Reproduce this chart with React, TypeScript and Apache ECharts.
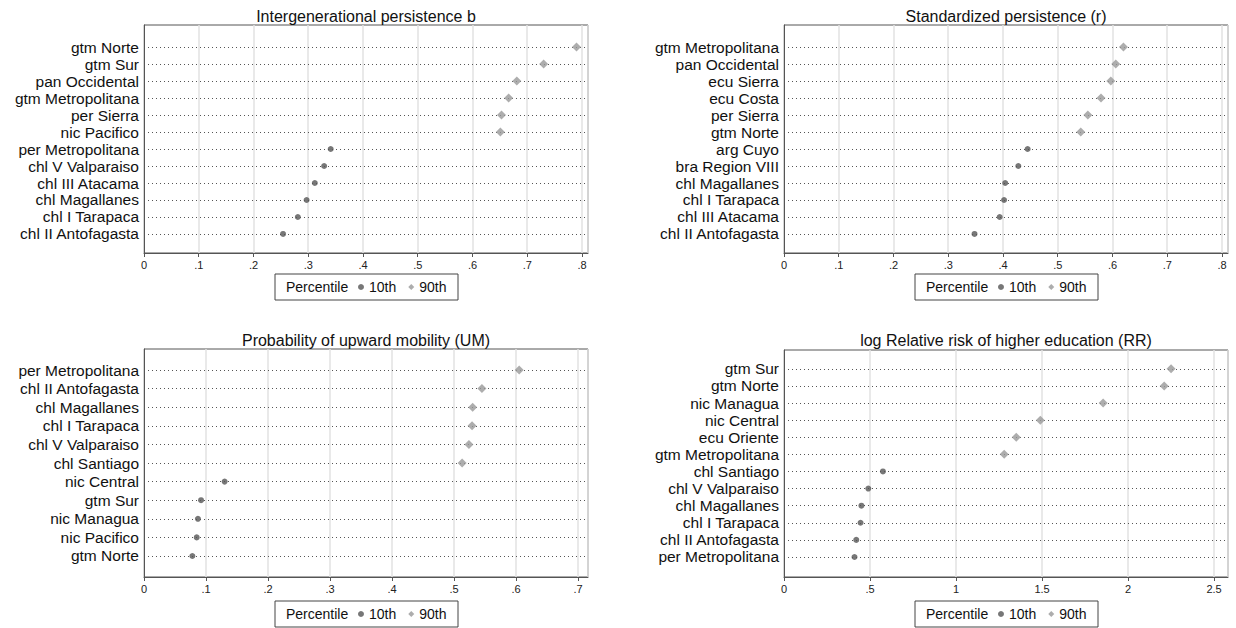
import React, { useEffect, useRef } from "react";
import * as echarts from "echarts";

const titles = ["Intergenerational persistence b", "Standardized persistence (r)", "Probability of upward mobility (UM)", "log Relative risk of higher education (RR)"];

// rows listed top to bottom
const rows1 = ["gtm Norte", "gtm Sur", "pan Occidental", "gtm Metropolitana", "per Sierra", "nic Pacifico", "per Metropolitana", "chl V Valparaiso", "chl III Atacama", "chl Magallanes", "chl I Tarapaca", "chl II Antofagasta"];
const vals1 = [0.79, 0.73, 0.681, 0.666, 0.653, 0.651, 0.341, 0.329, 0.312, 0.297, 0.281, 0.254];
const pct1 = ["90", "90", "90", "90", "90", "90", "10", "10", "10", "10", "10", "10"];

const rows2 = ["gtm Metropolitana", "pan Occidental", "ecu Sierra", "ecu Costa", "per Sierra", "gtm Norte", "arg Cuyo", "bra Region VIII", "chl Magallanes", "chl I Tarapaca", "chl III Atacama", "chl II Antofagasta"];
const vals2 = [0.62, 0.606, 0.597, 0.579, 0.555, 0.542, 0.445, 0.428, 0.404, 0.402, 0.394, 0.348];
const pct2 = ["90", "90", "90", "90", "90", "90", "10", "10", "10", "10", "10", "10"];

const rows3 = ["per Metropolitana", "chl II Antofagasta", "chl Magallanes", "chl I Tarapaca", "chl V Valparaiso", "chl Santiago", "nic Central", "gtm Sur", "nic Managua", "nic Pacifico", "gtm Norte"];
const vals3 = [0.605, 0.545, 0.53, 0.529, 0.524, 0.513, 0.13, 0.092, 0.087, 0.085, 0.078];
const pct3 = ["90", "90", "90", "90", "90", "90", "10", "10", "10", "10", "10"];

const rows4 = ["gtm Sur", "gtm Norte", "nic Managua", "nic Central", "ecu Oriente", "gtm Metropolitana", "chl Santiago", "chl V Valparaiso", "chl Magallanes", "chl I Tarapaca", "chl II Antofagasta", "per Metropolitana"];
const vals4 = [2.25, 2.21, 1.855, 1.49, 1.35, 1.28, 0.575, 0.49, 0.45, 0.445, 0.42, 0.41];
const pct4 = ["90", "90", "90", "90", "90", "90", "10", "10", "10", "10", "10", "10"];

const xTicks = [0.1, 0.1, 0.1, 0.5];
const xMax = [0.811, 0.811, 0.716, 2.581];

const FONT = "Liberation Sans";

export default function App() {
  const ref = useRef<HTMLDivElement>(null);
  useEffect(() => {
    const chart = echarts.init(ref.current!, null, { renderer: "svg" });
    const panels = [
      { rows: rows1, vals: vals1, pct: pct1, grid: { left: 144, right: 648, top: 25, bottom: 628 - 253 }, yr: [-0.12, 13.3], title: 16, legTop: 274 },
      { rows: rows2, vals: vals2, pct: pct2, grid: { left: 784, right: 8, top: 25, bottom: 628 - 253 }, yr: [-0.12, 13.3], title: 16, legTop: 274 },
      { rows: rows3, vals: vals3, pct: pct3, grid: { left: 144, right: 648, top: 349, bottom: 628 - 577 }, yr: [-0.13, 12.13], title: 340, legTop: 601 },
      { rows: rows4, vals: vals4, pct: pct4, grid: { left: 784, right: 8, top: 350, bottom: 628 - 577 }, yr: [-0.17, 13.1], title: 340, legTop: 601 },
    ];
    const grids: any[] = [], xAxes: any[] = [], yAxes: any[] = [], series: any[] = [], graphics: any[] = [], legends: any[] = [];
    panels.forEach((p, i) => {
      const n = p.rows.length;
      grids.push({ ...p.grid, show: true, borderColor: "#555", borderWidth: 1, backgroundColor: "#fff" });
      xAxes.push({
        type: "value", gridIndex: i, min: 0, max: xMax[i], interval: xTicks[i],
        axisLine: { show: true, onZero: false, lineStyle: { color: "#555" } },
        axisTick: { show: true, length: 4, lineStyle: { color: "#555" } },
        axisLabel: { fontFamily: FONT, fontSize: 11, color: "#222", margin: 6, showMaxLabel: false,
          formatter: (v: number) => (v === 0 ? "0" : String(+v.toFixed(2)).replace(/^0\./, ".")) },
        splitLine: { show: true, lineStyle: { color: "#e2e2e2", width: 1.5 } },
      });
      yAxes.push({
        type: "value", gridIndex: i, min: p.yr[0], max: p.yr[1],
        axisLine: { show: true, lineStyle: { color: "#555" } },
        axisTick: { show: false }, splitLine: { show: false },
        axisLabel: { fontFamily: FONT, fontSize: 15.5, color: "#111", margin: 5, customValues: p.rows.map((_, k) => n - k),
          formatter: (v: number) => p.rows[n - Math.round(v)] ?? "" },
      });
      const d10: any[] = [], d90: any[] = [];
      p.rows.forEach((r, k) => { (p.pct[k] === "10" ? d10 : d90).push([p.vals[k], n - k]); });
      series.push({
        name: "10th", type: "scatter", xAxisIndex: i, yAxisIndex: i, symbol: "circle", symbolSize: 6,
        itemStyle: { color: "#555" }, data: d10, z: 5,
        markLine: { silent: true, symbol: "none", label: { show: false }, lineStyle: { color: "#555", type: [1, 3], width: 1 },
          data: p.rows.map((_, k) => ({ yAxis: n - k })) },
      });
      series.push({ name: "90th", type: "scatter", xAxisIndex: i, yAxisIndex: i, symbol: "diamond", symbolSize: 9, itemStyle: { color: "#999" }, data: d90, z: 5 });
      const cx = p.grid.left + (1236 - p.grid.right - p.grid.left) / 2;
      graphics.push({ type: "text", x: cx, y: p.title, style: { text: titles[i], font: `16px '${FONT}'`, fill: "#111", align: "center", verticalAlign: "middle" } });
      graphics.push({ type: "rect", shape: { x: cx - 91, y: p.legTop, width: 183, height: 26 }, style: { fill: "#fff", stroke: "#444", lineWidth: 1 }, z: 0 });
      graphics.push({ type: "text", x: cx - 80, y: p.legTop + 13, style: { text: "Percentile", font: `14px '${FONT}'`, fill: "#111", verticalAlign: "middle" }, z: 10 });
      legends.push({ left: cx - 8, top: p.legTop + 6, itemGap: 12, itemWidth: 6, itemHeight: 6, data: [{ name: "10th" }, { name: "90th" }],
        textStyle: { fontFamily: FONT, fontSize: 14, color: "#111", padding: [0, 0, 0, 0] }, padding: 0, z: 10 });
    });
    chart.setOption({ animation: false, backgroundColor: "#fff", grid: grids, xAxis: xAxes, yAxis: yAxes, series, graphic: graphics, legend: legends });
    return () => chart.dispose();
  }, []);
  return <div ref={ref} style={{ position: "fixed", left: 0, top: 0, width: 1236, height: 628 }} />;
}
